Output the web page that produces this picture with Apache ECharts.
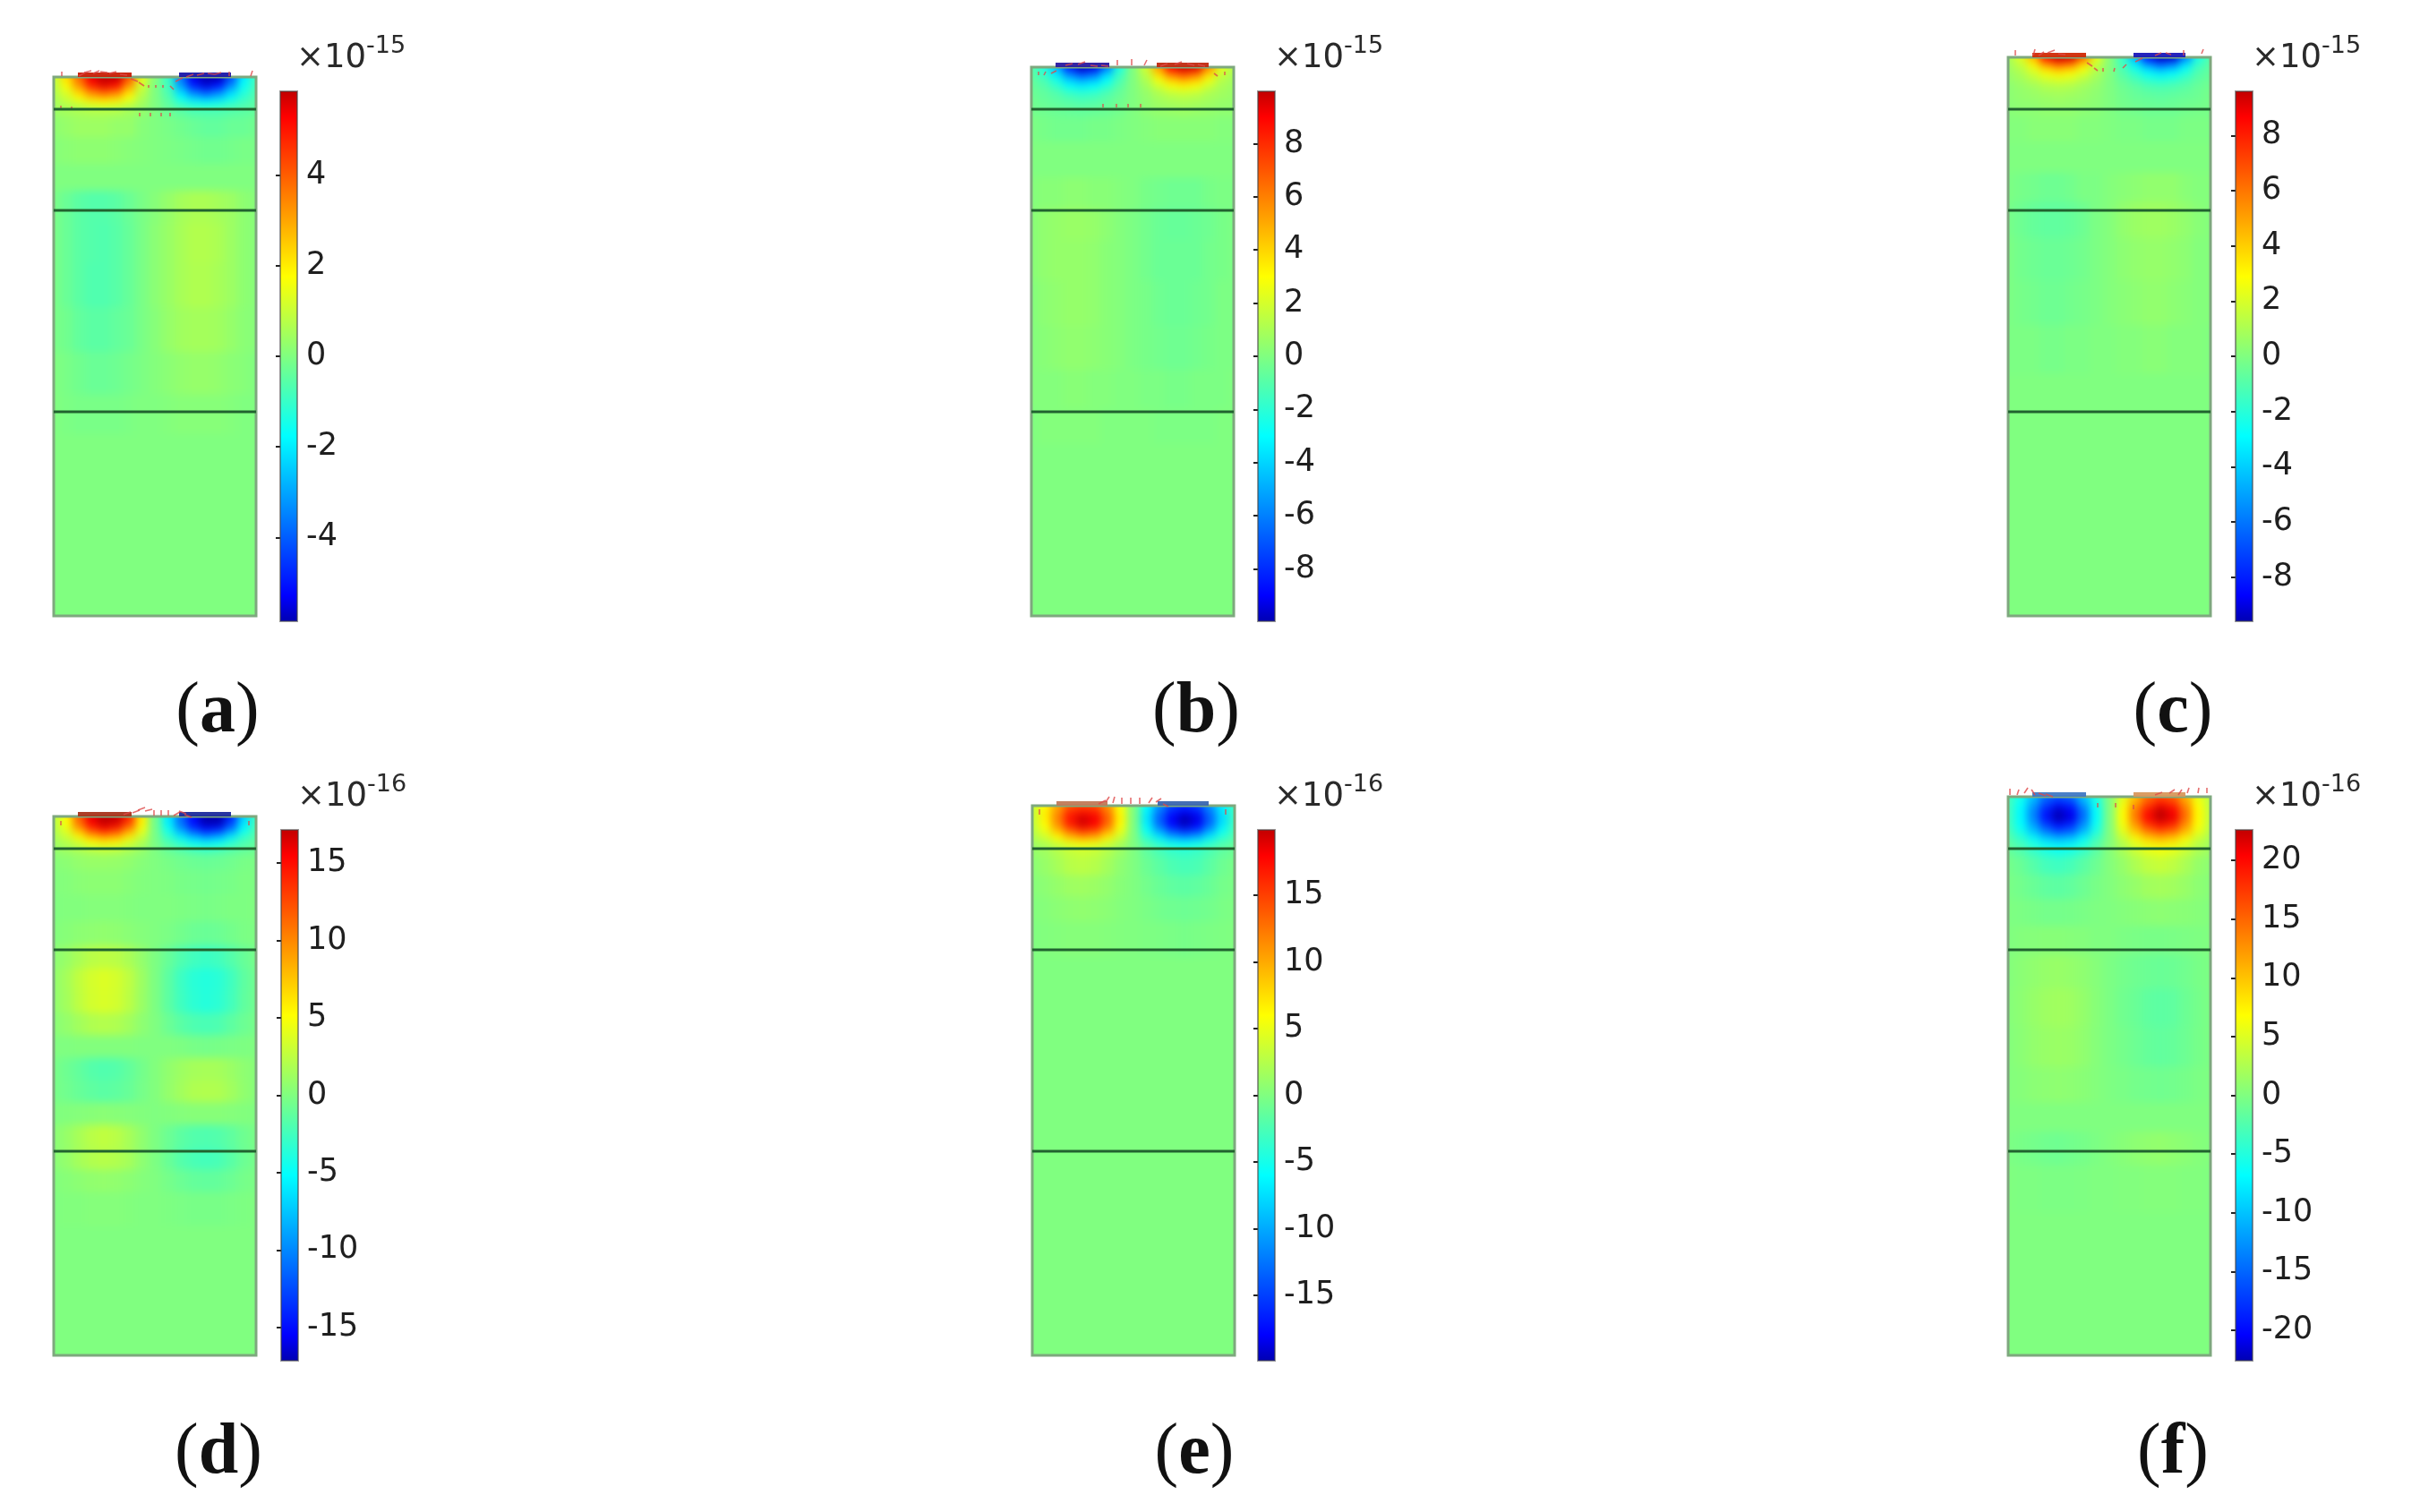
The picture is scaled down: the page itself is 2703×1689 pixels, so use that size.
<!DOCTYPE html>
<html>
<head>
<meta charset="utf-8">
<title>Potential maps</title>
<script src="https://cdn.jsdelivr.net/npm/echarts@6/dist/echarts.min.js"></script>
<style>
html,body{margin:0;padding:0;background:#fff;}
#heatclip{position:absolute;left:0;top:0;width:2703px;height:1689px;}
#heat{width:2703px;height:1689px;background:#80ff80;filter:blur(5px);}
#main{position:absolute;left:0;top:0;width:2703px;height:1689px;}
</style>
</head>
<body>
<div id="heatclip"><div id="heat"></div></div>
<div id="main"></div>
<script>
// node positions across a panel, same for all six
var colX = [0,14,28,42,56,70,84,98,113,128,142,156,170,184,198,212,226];

// panel a, unit 1e-15
var rowsA = [601,594,587,580,573,566,550,520,490,460,420,370,320,270,225,180,0];
var fieldA = [
[.9,2.2,3.8,5.4,6,6,4.2,1.4,.1,-1,-3.6,-5.4,-6,-5.9,-4.2,-2,-.9],
[.8,1.9,3.4,5,5.6,5.3,3.4,1.2,0,-.9,-3.3,-5,-5.6,-5.2,-3.6,-1.7,-.8],
[.7,1.4,2.6,3.8,4.4,4,2.5,.9,0,-.8,-2.5,-3.9,-4.5,-3.9,-2.6,-1.4,-.7],
[.6,1.1,1.9,2.7,3,2.7,1.7,.7,0,-.6,-1.8,-2.7,-3.1,-2.7,-1.9,-1.1,-.6],
[.5,.8,1.1,1.5,1.7,1.5,1.1,.5,0,-.5,-1.1,-1.5,-1.7,-1.5,-1.1,-.8,-.5],
[.4,.5,.6,.7,.7,.7,.5,.3,0,-.3,-.5,-.7,-.7,-.7,-.6,-.5,-.4],
[.2,.3,.4,.4,.4,.3,.3,.1,0,-.1,-.2,-.3,-.4,-.4,-.3,-.3,-.2],
[.1,.15,.2,.2,.2,.15,.1,.05,0,-.05,-.1,-.15,-.2,-.2,-.15,-.1,-.1],
[0,0,0,0,0,0,0,0,0,0,0,0,0,0,0,0,0],
[-.1,-.3,-.5,-.6,-.6,-.5,-.3,-.1,.1,.3,.5,.6,.6,.5,.4,.2,.1],
[-.1,-.3,-.5,-.6,-.65,-.55,-.35,-.1,.15,.35,.55,.7,.7,.6,.4,.2,.1],
[-.1,-.3,-.5,-.65,-.65,-.55,-.35,-.1,.15,.35,.55,.65,.65,.55,.4,.2,.1],
[-.1,-.2,-.4,-.5,-.5,-.4,-.3,-.1,.1,.3,.45,.5,.5,.45,.3,.15,.1],
[0,-.1,-.2,-.3,-.3,-.25,-.15,-.05,.05,.15,.25,.3,.3,.25,.15,.1,0],
[0,-.05,-.1,-.1,-.1,-.1,-.05,0,0,.05,.1,.1,.1,.1,.05,0,0],
[0,0,0,0,0,0,0,0,0,0,0,0,0,0,0,0,0],
[0,0,0,0,0,0,0,0,0,0,0,0,0,0,0,0,0]
];

// panel b, unit 1e-15
var rowsB = [613,606,599,592,585,575,566,550,510,470,440,400,350,300,250,215,170,0];
var fieldB = [
[-.9,-2.2,-4.8,-8.4,-9.9,-9.4,-6.5,-2.4,0,1.9,5.4,9,9.9,9.6,6,2.4,1.2],
[-.8,-1.8,-3.6,-6.2,-7.6,-6.8,-4.3,-1.7,0,1.5,4.1,6.6,7.6,6.8,4.1,1.8,1],
[-.7,-1.3,-2.5,-4.2,-5,-4.5,-3,-1.3,0,1.1,2.7,4.2,5,4.3,2.7,1.3,.8],
[-.6,-1,-1.8,-2.9,-3.4,-3,-2.1,-.9,0,.8,1.9,2.8,3.2,2.8,1.8,1,.7],
[-.5,-.7,-1.1,-1.7,-2,-1.8,-1.2,-.6,0,.5,1.1,1.6,1.8,1.6,1.1,.8,.6],
[-.4,-.6,-.8,-1,-1.2,-1.1,-.8,-.4,0,.4,.8,1,1.1,1,.8,.6,.5],
[-.3,-.4,-.5,-.6,-.7,-.6,-.5,-.3,0,.3,.5,.6,.7,.6,.5,.4,.4],
[-.1,-.2,-.3,-.3,-.3,-.2,-.2,-.1,0,.1,.2,.2,.2,.2,.2,.1,.1],
[0,0,0,0,0,0,0,0,0,0,0,0,0,0,0,0,0],
[.1,.2,.2,.3,.3,.2,.2,.1,0,-.2,-.3,-.4,-.4,-.4,-.2,-.1,-.1],
[.2,.4,.5,.6,.6,.5,.3,.1,-.1,-.3,-.5,-.6,-.6,-.5,-.4,-.2,-.1],
[.2,.4,.5,.5,.5,.4,.2,.1,-.1,-.3,-.5,-.5,-.5,-.5,-.3,-.2,-.1],
[.1,.3,.4,.5,.5,.4,.2,.1,-.1,-.2,-.4,-.5,-.5,-.4,-.3,-.1,-.1],
[.1,.2,.3,.4,.4,.3,.2,.1,-.1,-.2,-.3,-.4,-.4,-.3,-.2,-.1,-.1],
[.1,.1,.1,.2,.2,.1,.1,0,0,-.1,-.1,-.2,-.2,-.1,-.1,-.1,0],
[0,.1,.1,.1,.1,.1,0,0,0,0,-.1,-.1,-.1,-.1,-.1,0,0],
[0,0,0,0,0,0,0,0,0,0,0,0,0,0,0,0,0],
[0,0,0,0,0,0,0,0,0,0,0,0,0,0,0,0,0]
];

// panel c, unit 1e-15
var rowsC = [624,618,612,606,600,590,578,566,550,510,480,445,400,350,300,240,0];
var fieldC = [
[.9,2.2,4.6,8.4,9.6,9.4,6.6,2.4,.2,-1.7,-4.8,-8.4,-9.6,-9.4,-6,-2.4,-1],
[.8,1.7,3.4,6.1,7.4,6.8,4.4,1.8,.2,-1.4,-3.6,-6.1,-7.4,-6.6,-4.1,-1.8,-.8],
[.7,1.3,2.4,3.9,4.8,4.3,2.8,1.3,.1,-1.2,-2.5,-4,-4.9,-4.3,-2.8,-1.3,-.7],
[.6,1,1.8,2.7,3.2,2.8,2,1,.1,-1,-1.8,-2.8,-3.3,-2.9,-2,-1,-.6],
[.5,.8,1.3,1.8,2.1,1.9,1.3,.7,0,-.7,-1.3,-1.9,-2.2,-1.9,-1.4,-.8,-.5],
[.3,.5,.7,1,1.1,1,.7,.4,0,-.4,-.7,-1,-1.1,-1,-.8,-.5,-.3],
[.3,.4,.5,.6,.7,.6,.5,.3,0,-.3,-.5,-.6,-.7,-.6,-.5,-.4,-.2],
[.2,.3,.3,.4,.4,.4,.3,.2,0,-.2,-.3,-.4,-.4,-.4,-.3,-.2,-.2],
[.1,.1,.2,.2,.2,.2,.1,.1,0,-.1,-.1,-.2,-.2,-.2,-.1,-.1,-.1],
[0,0,0,0,0,0,0,0,0,0,0,0,0,0,0,0,0],
[-.1,-.2,-.3,-.4,-.4,-.3,-.1,-.1,.1,.2,.3,.4,.4,.4,.2,.1,.1],
[-.2,-.4,-.6,-.7,-.7,-.6,-.4,-.1,.1,.4,.6,.7,.7,.6,.4,.2,.1],
[-.1,-.3,-.4,-.5,-.5,-.4,-.3,-.1,.1,.3,.4,.5,.5,.4,.3,.1,.1],
[-.1,-.2,-.3,-.4,-.4,-.3,-.2,-.1,.1,.2,.3,.4,.4,.3,.2,.1,.1],
[-.1,-.1,-.1,-.2,-.2,-.1,-.1,0,0,.1,.1,.2,.2,.1,.1,.1,0],
[0,0,0,0,0,0,0,0,0,0,0,0,0,0,0,0,0],
[0,0,0,0,0,0,0,0,0,0,0,0,0,0,0,0,0]
];

// panel d, unit 1e-16
var rowsD = [602,595,588,581,574,566,555,530,500,470,445,420,395,370,345,320,295,270,245,220,195,170,120,0];
var fieldD = [
[2.2,5,11.5,16,17.2,17,14,5.8,-.5,-5.8,-11,-15,-17.2,-17.2,-14,-7,-2.8],
[2.2,5,11,15.5,17.2,16.5,13,5.8,-.5,-5.8,-11,-15,-17.2,-17,-13,-6.4,-2.5],
[2,4.2,8.8,13,15,13.6,10,4.6,-.4,-4.6,-9.4,-13,-15,-14.2,-10.6,-5.2,-2.2],
[1.7,3.2,5.8,9,10.4,9.6,6.5,3.2,-.3,-3.4,-6.4,-9,-10.8,-9.6,-6.5,-3.4,-1.7],
[1.3,2.2,3.5,5.2,6,5.5,3.7,2,-.2,-2.2,-3.8,-5.4,-6,-5.4,-3.7,-2.2,-1.3],
[1,1.4,1.9,2.5,3,2.7,1.9,1.1,-.1,-1.1,-1.8,-2.5,-3,-2.5,-1.8,-1.3,-.9],
[.3,.5,.8,1,1,.9,.7,.3,0,-.3,-.6,-.8,-.9,-.8,-.6,-.3,-.2],
[.1,.2,.4,.5,.5,.5,.3,.1,0,-.1,-.3,-.4,-.5,-.4,-.3,-.1,-.1],
[0,.1,.1,.2,.2,.2,.1,0,0,0,-.1,-.2,-.3,-.2,-.1,-.1,0],
[.1,.3,.5,.6,.7,.6,.4,.2,0,-.2,-.5,-.8,-.9,-.8,-.5,-.2,-.1],
[.5,1,1.7,2.3,2.5,2.3,1.7,.8,-.1,-1,-1.9,-2.5,-2.8,-2.5,-1.8,-1,-.4],
[.7,1.5,2.6,3.4,3.7,3.4,2.5,1.2,-.1,-1.4,-2.7,-3.5,-3.8,-3.5,-2.6,-1.4,-.6],
[.7,1.4,2.5,3.3,3.6,3.3,2.4,1.1,-.1,-1.4,-2.6,-3.4,-3.7,-3.4,-2.5,-1.3,-.6],
[.4,.8,1.4,1.9,2.1,1.9,1.4,.6,0,-.8,-1.5,-2,-2.2,-2,-1.4,-.8,-.4],
[0,0,.1,.1,.1,.1,.1,0,0,0,-.1,-.3,-.4,-.3,-.2,-.1,0],
[-.3,-.7,-1.2,-1.7,-1.9,-1.7,-1.2,-.5,.1,.7,1.2,1.5,1.6,1.5,1.1,.6,.3],
[-.3,-.6,-1,-1.3,-1.5,-1.3,-1,-.4,.1,.8,1.4,1.9,2,1.9,1.4,.7,.3],
[0,.1,.2,.3,.4,.3,.2,.1,0,.1,.2,.3,.3,.3,.2,.1,0],
[.4,.9,1.6,2.3,2.6,2.3,1.6,.7,-.1,-.8,-1.4,-1.8,-1.9,-1.8,-1.3,-.7,-.3],
[.4,.8,1.5,2,2.2,2,1.5,.6,-.1,-.9,-1.7,-2.2,-2.4,-2.2,-1.6,-.8,-.4],
[.1,.3,.5,.7,.8,.7,.5,.2,0,-.4,-.8,-1.1,-1.2,-1.1,-.8,-.4,-.2],
[0,.1,.1,.2,.2,.2,.1,0,0,-.1,-.2,-.3,-.3,-.3,-.2,-.1,0],
[0,0,0,0,0,0,0,0,0,0,0,0,0,0,0,0,0],
[0,0,0,0,0,0,0,0,0,0,0,0,0,0,0,0,0]
];

// panel e, unit 1e-16
var rowsE = [614,607,600,593,586,579,572,566,548,525,500,470,420,0];
var fieldE = [
[3.2,6,10,13.5,14.5,14,11,5.5,0,-6,-11,-14.5,-15.5,-14.5,-11,-6.6,-3.2],
[3.2,6.6,11.2,16,17,16.5,12.5,6,0,-6.6,-12.5,-16.5,-18,-17,-12.5,-7.2,-3.2],
[3.2,6.6,11.8,17,19.4,18.2,13.5,6.6,0,-7.2,-13.5,-18,-19.9,-18.6,-13.5,-7.7,-3.2],
[3,6,11.2,16.5,19,17.8,13,6,0,-6.6,-13,-17.6,-19.5,-18,-13,-7.2,-3],
[2.6,5,9,13,15.4,14.2,10.2,5,0,-5.5,-10.2,-14.2,-16,-14.8,-10.2,-5.5,-2.6],
[2.2,3.7,6.2,9,10.6,9.8,6.8,3.5,0,-4,-7,-9.8,-11,-9.8,-6.8,-4,-2.2],
[1.5,2.3,3.6,5,5.7,5.2,3.7,2,0,-2.3,-4,-5.4,-6,-5.3,-3.7,-2.3,-1.4],
[1,1.5,2.4,3.2,3.6,3.3,2.4,1.3,0,-1.5,-2.6,-3.4,-3.7,-3.3,-2.4,-1.5,-1],
[.5,1.1,1.8,2.6,2.8,2.5,1.7,.7,0,-1,-1.7,-2.4,-2.7,-2.5,-1.7,-.9,-.4],
[.3,.6,1,1.4,1.5,1.3,.9,.4,0,-.6,-1.1,-1.5,-1.7,-1.5,-1.1,-.5,-.3],
[.1,.3,.5,.7,.8,.7,.5,.2,0,-.3,-.6,-.8,-.9,-.8,-.6,-.3,-.1],
[0,.1,.2,.3,.3,.3,.2,.1,0,-.1,-.2,-.3,-.4,-.3,-.2,-.1,0],
[0,0,0,0,0,0,0,0,0,0,0,0,0,0,0,0,0],
[0,0,0,0,0,0,0,0,0,0,0,0,0,0,0,0,0]
];

// panel f, unit 1e-16
var rowsF = [624,616,608,600,592,584,576,566,550,525,495,465,430,390,345,300,265,235,190,130,0];
var fieldF = [
[-3,-5.5,-10,-14.5,-15.5,-14.5,-10,-5,0,5,10,14.5,16,15,11,5.5,3],
[-3.2,-6.6,-11.6,-16.5,-19,-17.8,-12,-6,0,6,12,16.5,19.4,17.8,12.6,6.6,3.2],
[-3.2,-7,-13.2,-19,-22,-20.5,-14.4,-6.6,0,6.6,13.8,19.4,22.5,20.5,14.4,7,3.4],
[-3.2,-7,-13.2,-19.4,-22.5,-21,-14.4,-6.6,0,6.6,13.8,20,22.5,21,14.4,7,3.4],
[-3.2,-6.6,-11.6,-16.5,-19.4,-17.8,-12.6,-6,0,6,12,17,19.4,17.8,12.6,6.6,3.2],
[-2.7,-5.5,-9.4,-13.2,-15.4,-14.4,-10,-5,0,5,9.4,13.2,15,13.8,10,5.5,2.8],
[-2,-3.8,-6,-8.5,-9.6,-8.8,-6.2,-3,0,3.2,6,8.5,9.5,8.6,6.2,3.6,2],
[-1.4,-2.5,-4,-5.3,-6,-5.5,-4,-2,.3,2.2,4,5.4,6,5.4,4,2.4,1.6],
[-.6,-1.2,-2.2,-3.2,-3.5,-3,-2,-1,.2,1.2,2.4,3.4,3.8,3.3,2.3,1.2,.7],
[-.3,-.7,-1.2,-1.7,-1.9,-1.6,-1,-.4,.1,.7,1.2,1.8,2,1.8,1.3,.7,.4],
[-.1,-.2,-.4,-.6,-.6,-.5,-.3,-.1,0,.2,.4,.6,.7,.6,.5,.3,.1],
[0,.2,.3,.4,.4,.3,.2,0,0,-.2,-.3,-.4,-.4,-.3,-.2,-.1,0],
[.2,.6,.9,1.2,1.3,1.1,.8,.3,-.2,-.6,-.9,-1.1,-1.2,-1.1,-.8,-.4,-.2],
[.3,.7,1.2,1.6,1.8,1.6,1.1,.4,-.2,-.8,-1.2,-1.7,-1.9,-1.7,-1.1,-.6,-.2],
[.2,.6,1,1.3,1.4,1.3,.9,.3,-.2,-.6,-1,-1.4,-1.6,-1.4,-1,-.5,-.2],
[.2,.3,.6,.7,.8,.7,.5,.2,-.1,-.3,-.6,-.7,-.8,-.7,-.5,-.2,-.1],
[0,0,0,0,0,0,0,0,0,0,0,0,0,0,0,0,0],
[-.2,-.4,-.6,-.8,-.9,-.7,-.5,-.2,.1,.4,.7,.9,1,.8,.6,.3,.1],
[0,-.1,-.1,-.2,-.2,-.2,-.1,0,0,.1,.1,.2,.2,.2,.1,.1,0],
[0,0,0,0,0,0,0,0,0,0,0,0,0,0,0,0,0],
[0,0,0,0,0,0,0,0,0,0,0,0,0,0,0,0,0]
];

// colour bar ranges and tick labels
var rangeMax = [5.85,9.97,9.6,17.15,19.9,22.6];
var ticksA = [-4,-2,0,2,4];
var ticksB = [-8,-6,-4,-2,0,2,4,6,8];
var ticksC = [-8,-6,-4,-2,0,2,4,6,8];
var ticksD = [-15,-10,-5,0,5,10,15];
var ticksE = [-15,-10,-5,0,5,10,15];
var ticksF = [-20,-15,-10,-5,0,5,10,15,20];
var exponents = ['-15','-15','-15','-16','-16','-16'];
var panelNames = ['a','b','c','d','e','f'];

// layer interfaces, depth above panel bottom
var layerDepths = [228,453,566];

// electrodes [x0,x1]
var electrodeA = [[27,87],[140,198]];
var electrodeB = [[27,87],[140,198]];
var electrodeC = [[27,87],[140,198]];
var electrodeD = [[27,87],[140,198]];
var electrodeE = [[27,84],[140,197]];
var electrodeF = [[27,87],[140,198]];

// small field arrows [x,y,dx,dy]
var arrowsA = [[9,603,0,5],[28,603,7,4],[34,607,8,2],[44,606,7,3],[52,608,8,-1],[62,606,8,2],[74,605,8,-1],[86,600,8,-3],[95,596,6,-4],[106,590,0,3],[114,590,0,3],[122,590,0,3],[130,592,4,-4],[136,597,8,4],[148,602,8,3],[160,604,8,2],[172,606,8,-1],[180,605,7,2],[196,603,0,5],[220,603,2,6],[8,565,0,5],[20,565,0,4],[96,558,0,4],[108,558,0,4],[120,558,0,4],[130,558,0,4]];
var arrowsB = [[8,604,0,4],[14,604,2,4],[22,606,6,3],[38,615,8,2],[52,616,8,3],[66,615,8,-1],[78,615,8,-1],[96,615,0,6],[112,615,0,7],[126,615,3,6],[144,614,8,3],[160,616,8,3],[174,617,8,-2],[186,616,8,-2],[204,606,4,-3],[216,604,0,4],[80,568,0,4],[95,568,0,4],[108,568,0,4],[122,568,0,4]];
var arrowsC = [[8,626,0,6],[28,626,2,7],[34,626,6,4],[44,629,8,3],[56,628,8,-1],[88,618,6,-4],[96,612,4,-3],[106,608,0,4],[118,608,1,4],[128,612,4,4],[142,619,8,4],[164,626,7,3],[176,629,6,-2],[196,626,0,6],[216,628,2,5]];
var arrowsD = [[78,604,8,3],[88,606,8,3],[94,609,8,3],[102,608,8,2],[112,603,0,6],[120,603,0,6],[128,603,0,6],[134,603,7,4],[140,608,8,-3],[146,604,8,-3],[8,592,0,5],[218,592,0,5]];
var arrowsE = [[74,616,8,4],[82,618,4,6],[90,617,2,7],[100,616,0,7],[110,616,0,7],[120,616,0,7],[130,617,4,6],[138,618,6,4],[146,616,6,-3],[8,604,0,6],[216,604,0,6]];
var arrowsF = [[2,626,0,7],[10,626,2,6],[18,628,4,6],[26,632,4,-6],[34,628,8,-3],[42,627,8,-3],[100,612,0,5],[120,612,0,5],[140,610,0,5],[164,626,8,3],[180,628,6,4],[190,626,4,6],[200,628,2,6],[212,628,1,6],[222,628,0,6]];

var rowsAll = [rowsA,rowsB,rowsC,rowsD,rowsE,rowsF];
var fieldAll = [fieldA,fieldB,fieldC,fieldD,fieldE,fieldF];
var ticksAll = [ticksA,ticksB,ticksC,ticksD,ticksE,ticksF];
var electrodeAll = [electrodeA,electrodeB,electrodeC,electrodeD,electrodeE,electrodeF];
var arrowsAll = [arrowsA,arrowsB,arrowsC,arrowsD,arrowsE,arrowsF];

// layout in page pixels
var panelLeft = [60,1152,2243,60,1153,2243];
var panelTop = [86,75,64,912,900,890];
var panelBottom = [688,688,688,1514,1514,1514];
var barLeft = [313,1405,2497,314,1405,2497];
var barTop = [102,102,102,927,927,927];
var barBottom = [694,694,694,1520,1520,1520];
var labelX = [243,1336,2427,244,1334,2427];
var labelY = [796,796,796,1624,1624,1624];
var electrodeColors = [['#c81e05','#1a16a8'],['#2a1aa0','#c02a10'],['#d02a05','#1a18b8'],['#a8341c','#1c2a9c'],['#c07a58','#3a66b0'],['#3f78c4','#d8985c']];

// rainbow table, evenly spaced from low to high
var rainbow = ['#0000b0','#0000ff','#002bff','#0055ff','#0080ff','#00aaff','#00d5ff','#00ffff','#2bffd5','#55ffaa','#80ff80','#aaff55','#d5ff2b','#ffff00','#ffd500','#ffaa00','#ff8000','#ff5500','#ff2b00','#ff0000','#c00000'];

function cellData(rows,field){
    var out = [];
    for(var r=0;r<rows.length;r++){
        var yHi = r==0 ? rows[0]+10 : (rows[r-1]+rows[r])/2;
        var yLo = r==rows.length-1 ? rows[r]-10 : (rows[r]+rows[r+1])/2;
        for(var c=0;c<colX.length;c++){
            var xLo = c==0 ? colX[0]-10 : (colX[c-1]+colX[c])/2;
            var xHi = c==colX.length-1 ? colX[c]+10 : (colX[c]+colX[c+1])/2;
            out.push([xLo,xHi,yLo,yHi,field[r][c]]);
        }
    }
    return out;
}
function renderCell(params,api){
    var a = api.coord([api.value(0),api.value(3)]);
    var b = api.coord([api.value(1),api.value(2)]);
    return {type:'rect',shape:{x:a[0],y:a[1],width:b[0]-a[0]+1,height:b[1]-a[1]+1},style:{fill:api.visual('color')}};
}

// the blurred field layer
var heatOption = {animation:false,grid:[],xAxis:[],yAxis:[],visualMap:[],series:[]};
var clipPath = '';
for(var i=0;i<6;i++){
    var w = 226, h = panelBottom[i]-panelTop[i];
    clipPath += 'M'+panelLeft[i]+' '+panelTop[i]+'H'+(panelLeft[i]+w+1)+'V'+panelBottom[i]+'H'+panelLeft[i]+'Z';
    heatOption.grid.push({left:panelLeft[i],top:panelTop[i],width:w,height:h});
    heatOption.xAxis.push({gridIndex:i,type:'value',min:0,max:226,show:false});
    heatOption.yAxis.push({gridIndex:i,type:'value',min:0,max:h,show:false});
    heatOption.visualMap.push({show:false,type:'continuous',seriesIndex:i,dimension:4,min:-rangeMax[i],max:rangeMax[i],inRange:{color:rainbow}});
    heatOption.series.push({type:'custom',xAxisIndex:i,yAxisIndex:i,renderItem:renderCell,data:cellData(rowsAll[i],fieldAll[i]),
        encode:{x:[0,1],y:[2,3]},silent:true});
}
document.getElementById('heatclip').style.clipPath = "path('"+clipPath+"')";
echarts.init(document.getElementById('heat')).setOption(heatOption);

function renderBar(params,api){
    var a = api.coord([0,api.value(1)]);
    var size = params.coordSys;
    var b = api.coord([1,api.value(0)]);
    var stops = [];
    for(var j=0;j<rainbow.length;j++){
        stops.push({offset:j/(rainbow.length-1),color:rainbow[rainbow.length-1-j]});
    }
    return {type:'rect',shape:{x:size.x,y:a[1],width:size.width,height:b[1]-a[1]},
        style:{fill:new echarts.graphic.LinearGradient(0,0,0,1,stops),stroke:'rgba(70,70,70,.55)',lineWidth:2}};
}
function renderArrow(params,api){
    var p = api.coord([api.value(0),api.value(1)]);
    var q = api.coord([api.value(0)+api.value(2),api.value(1)+api.value(3)]);
    return {type:'line',shape:{x1:p[0],y1:p[1],x2:q[0],y2:q[1]},style:{stroke:'#de4a4a',lineWidth:1.6,opacity:.8}};
}
function makeRenderElectrode(panel){
    return function(params,api){
        var p = api.coord([api.value(0),api.value(2)+5]);
        var q = api.coord([api.value(1),api.value(2)]);
        return {type:'rect',shape:{x:p[0],y:p[1],width:q[0]-p[0],height:q[1]-p[1]},
            style:{fill:electrodeColors[panel][params.dataIndex],opacity:.95}};
    };
}

var option = {animation:false,grid:[],xAxis:[],yAxis:[],series:[],title:[]};
for(var i=0;i<6;i++){
    var h = panelBottom[i]-panelTop[i];
    var g = option.grid.length;
    var tickStyle = {show:true,inside:true,length:5,lineStyle:{color:'#222',width:2},customValues:ticksAll[i]};
    // panel
    option.grid.push({left:panelLeft[i],top:panelTop[i],width:226,height:h,show:true,backgroundColor:'transparent',borderColor:'#7ea87e',borderWidth:3});
    option.xAxis.push({gridIndex:g,type:'value',min:0,max:226,show:false});
    option.yAxis.push({gridIndex:g,type:'value',min:0,max:h,show:false});
    var yi = option.yAxis.length-1;
    for(var k=0;k<layerDepths.length;k++){
        option.series.push({type:'line',xAxisIndex:g,yAxisIndex:yi,symbol:'none',silent:true,
            lineStyle:{color:'#21622f',width:3},data:[[0,layerDepths[k]],[226,layerDepths[k]]]});
    }
    var eData = [];
    for(var k=0;k<electrodeAll[i].length;k++){
        eData.push([electrodeAll[i][k][0],electrodeAll[i][k][1],h]);
    }
    option.series.push({type:'custom',xAxisIndex:g,yAxisIndex:yi,renderItem:makeRenderElectrode(i),data:eData,silent:true,clip:false});
    option.series.push({type:'custom',xAxisIndex:g,yAxisIndex:yi,renderItem:renderArrow,data:arrowsAll[i],silent:true,clip:false});
    // colour bar
    var b = option.grid.length;
    option.grid.push({left:barLeft[i],top:barTop[i],width:19,height:barBottom[i]-barTop[i]});
    option.xAxis.push({gridIndex:b,type:'value',min:0,max:1,show:false});
    option.yAxis.push({gridIndex:b,type:'value',position:'right',min:-rangeMax[i],max:rangeMax[i],
        axisLine:{show:false},splitLine:{show:false},axisTick:tickStyle,
        axisLabel:{show:true,customValues:ticksAll[i],margin:10,padding:[5,0,0,0],fontFamily:'DejaVu Sans',fontSize:35,color:'#1f1f1f'},
        name:'{base|×10}{sup|'+exponents[i]+'}',nameLocation:'end',nameGap:18,
        nameTextStyle:{align:'left',verticalAlign:'bottom',padding:[0,0,0,18],rich:{
            base:{fontFamily:'DejaVu Sans',fontSize:37,color:'#2a2a2a',lineHeight:46,verticalAlign:'bottom'},
            sup:{fontFamily:'DejaVu Sans',fontSize:27,color:'#2a2a2a',lineHeight:46,verticalAlign:'top'}}}});
    var by = option.yAxis.length-1;
    option.yAxis.push({gridIndex:b,type:'value',position:'left',min:-rangeMax[i],max:rangeMax[i],
        axisLine:{show:false},splitLine:{show:false},axisLabel:{show:false},axisTick:tickStyle});
    option.series.push({type:'custom',xAxisIndex:b,yAxisIndex:by,renderItem:renderBar,data:[[-rangeMax[i],rangeMax[i]]],silent:true,z:1});
    // (a) ... (f)
    option.title.push({text:'{p|(}{n|'+panelNames[i]+'}{p|)}',left:labelX[i],top:labelY[i],
        textAlign:'center',textVerticalAlign:'middle',padding:0,
        textStyle:{fontWeight:'normal',rich:{
            p:{fontFamily:'Liberation Serif',fontSize:80,fontWeight:'normal',color:'#111'},
            n:{fontFamily:'Liberation Serif',fontSize:80,fontWeight:'bold',color:'#111'}}}});
}
echarts.init(document.getElementById('main')).setOption(option);
</script>
</body>
</html>
